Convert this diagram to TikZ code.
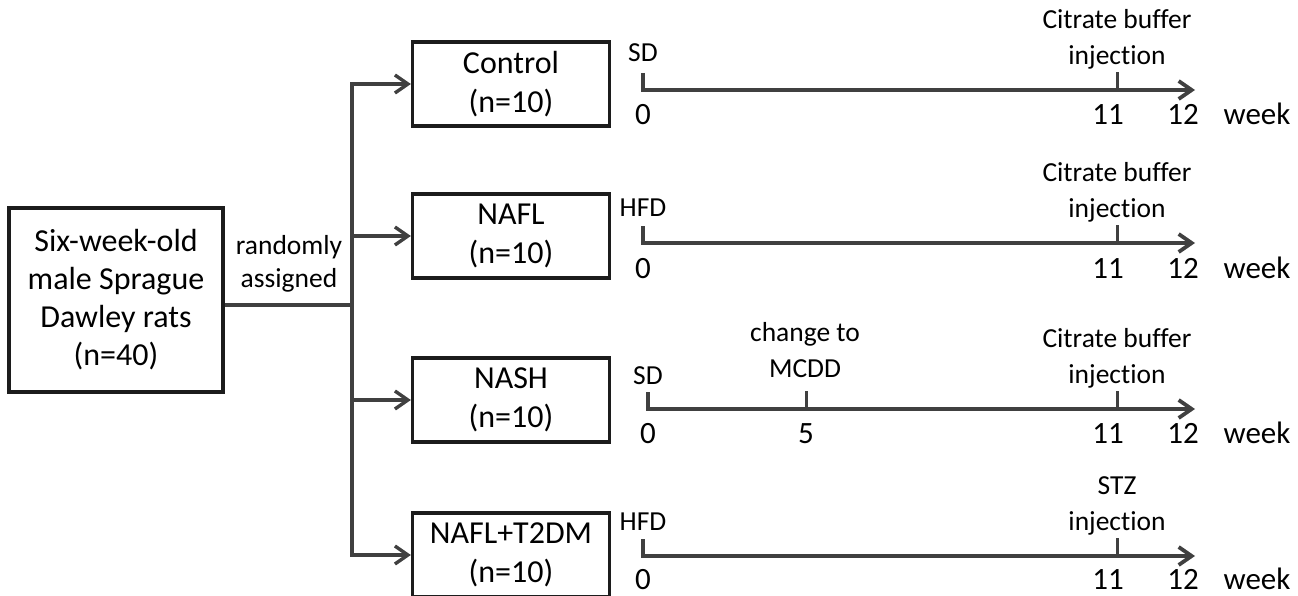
\documentclass[tikz,border=0pt]{standalone}
\usepackage{fontspec}
\setmainfont{Carlito}[Ligatures=NoCommon]
\usetikzlibrary{arrows.meta, positioning}
\definecolor{ratLine}{RGB}{64,64,64}
\definecolor{ratBox}{RGB}{28,28,28}

\begin{document}
\begin{tikzpicture}[
    x=1pt, y=-1pt,
    group/.style={draw=ratBox, line width=3.2pt, minimum width=197pt, minimum height=84pt, align=center, font=\fontsize{32}{39}\selectfont, inner sep=0pt},
    cohort/.style={group, minimum width=214pt, minimum height=184pt, font=\fontsize{32}{38}\selectfont},
    lab/.style={align=center, font=\fontsize{27.5}{36}\selectfont, inner sep=0pt},
    num/.style={anchor=base, font=\fontsize{31}{36}\selectfont, inner sep=0pt},
    link/.style={draw=ratLine, line width=3.4pt},
    arrow/.style={link, -{Straight Barb[length=13pt, width=18pt]}},
    axis/.style={draw=ratLine, line width=3.8pt, -{Straight Barb[length=13pt, width=18pt]}},
    tick/.style={draw=ratLine, line width=3pt}
]
    \useasboundingbox (0,0) rectangle (1298,596);

    \node[cohort] (rats) at (116,300) {Six-week-old\\male Sprague\\Dawley rats\\(n=40)};
    \node[lab, font=\fontsize{27.5}{33}\selectfont] (assign) at (289,264) {randomly\\assigned};
    \coordinate (bus) at (352,305);

    \node[group] (ctl) at (511,84) {Control\\(n=10)};
    \node[group] (nafl) at (511,236) {NAFL\\(n=10)};
    \node[group] (nash) at (511,400) {NASH\\(n=10)};
    \node[group] (t2dm) at (511,555) {NAFL+T2DM\\(n=10)};

    \draw[link] (rats.east |- bus) -- (bus);
    \draw[arrow] (bus) |- (ctl);
    \draw[arrow] (bus) |- (nafl);
    \draw[arrow] (bus) |- (nash);
    \draw[arrow] (bus) |- (t2dm);

    \coordinate (ctl0) at (643,90);
    \coordinate (ctl11) at (1117,90);
    \coordinate (ctl12) at (1195,90);
    \draw[axis] ([yshift=17pt]ctl0) -- (ctl0) -- (ctl12);
    \draw[tick] (ctl11) -- ++(0,-18);
    \node[lab, anchor=base] (ctlDiet) at (643,62) {SD};
    \node[lab] (ctlInj) at (1117,39) {Citrate buffer\\injection};
    \node[num] (ctlA) at (643,125) {0};
    \node[num] (ctlB) at (1108,125) {11};
    \node[num] (ctlC) at (1183,125) {12};
    \node[num] (ctlW) at (1257,125) {week};

    \coordinate (nafl0) at (643,243);
    \coordinate (nafl11) at (1117,243);
    \coordinate (nafl12) at (1195,243);
    \draw[axis] ([yshift=17pt]nafl0) -- (nafl0) -- (nafl12);
    \draw[tick] (nafl11) -- ++(0,-18);
    \node[lab, anchor=base] (naflDiet) at (643,217) {HFD};
    \node[lab] (naflInj) at (1117,192) {Citrate buffer\\injection};
    \node[num] (naflA) at (643,278) {0};
    \node[num] (naflB) at (1108,278) {11};
    \node[num] (naflC) at (1183,278) {12};
    \node[num] (naflW) at (1257,278) {week};

    \coordinate (nash0) at (648,409);
    \coordinate (nash5) at (806,409);
    \coordinate (nash11) at (1117,409);
    \coordinate (nash12) at (1195,409);
    \draw[axis] ([yshift=17pt]nash0) -- (nash0) -- (nash12);
    \draw[tick] (nash5) -- ++(0,-18);
    \draw[tick] (nash11) -- ++(0,-18);
    \node[lab, anchor=base] (nashDiet) at (648,384) {SD};
    \node[lab] (nashSwitch) at (805,350) {change to\\MCDD};
    \node[lab] (nashInj) at (1117,358) {Citrate buffer\\injection};
    \node[num] (nashA) at (648,443) {0};
    \node[num] (nashF) at (806,443) {5};
    \node[num] (nashB) at (1108,443) {11};
    \node[num] (nashC) at (1183,443) {12};
    \node[num] (nashW) at (1257,443) {week};

    \coordinate (t2dm0) at (643,556);
    \coordinate (t2dm11) at (1117,556);
    \coordinate (t2dm12) at (1195,556);
    \draw[axis] ([yshift=17pt]t2dm0) -- (t2dm0) -- (t2dm12);
    \draw[tick] (t2dm11) -- ++(0,-18);
    \node[lab, anchor=base] (t2dmDiet) at (643,530) {HFD};
    \node[lab] (t2dmInj) at (1117,506) {STZ\\injection};
    \node[num] (t2dmA) at (643,589) {0};
    \node[num] (t2dmB) at (1108,589) {11};
    \node[num] (t2dmC) at (1183,589) {12};
    \node[num] (t2dmW) at (1257,589) {week};
\end{tikzpicture}
\end{document}
